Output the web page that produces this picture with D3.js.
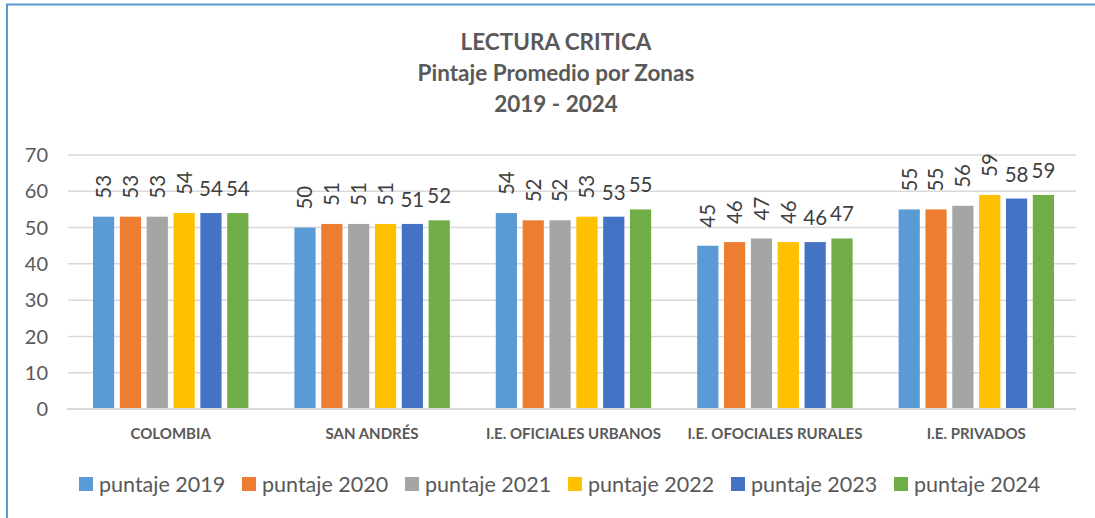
<!DOCTYPE html>
<html>
<head>
<meta charset="utf-8">
<script src="https://cdn.jsdelivr.net/npm/d3@7"></script>
<style>
  body { margin: 0; background: #fff; }
  svg { display: block; font-family: Lato, "Open Sans", sans-serif; }
</style>
</head>
<body>
<div id="root"></div>
<script>
const width = 1095;
const height = 518;

// Data

const zonas = ['COLOMBIA', 'SAN ANDRÉS', 'I.E. OFICIALES URBANOS', 'I.E. OFOCIALES RURALES', 'I.E. PRIVADOS'];
const series = ['puntaje 2019', 'puntaje 2020', 'puntaje 2021', 'puntaje 2022', 'puntaje 2023', 'puntaje 2024'];

const puntaje2019 = [53, 50, 54, 45, 55];
const puntaje2020 = [53, 51, 52, 46, 55];
const puntaje2021 = [53, 51, 52, 47, 56];
const puntaje2022 = [54, 51, 53, 46, 59];
const puntaje2023 = [54, 51, 53, 46, 58];
const puntaje2024 = [54, 52, 55, 47, 59];

const values = [puntaje2019, puntaje2020, puntaje2021, puntaje2022, puntaje2023, puntaje2024];
const yTicks = [0, 10, 20, 30, 40, 50, 60, 70];
const titleLines = ['LECTURA CRITICA', 'Pintaje Promedio por Zonas', '2019 - 2024'];

// Colors

const colors = ['#5B9BD5', '#ED7D31', '#A5A5A5', '#FFC000', '#4472C4', '#70AD47'];
const colorScale = d3.scaleOrdinal(series, colors);

// Main canvas

const svg = d3
  .select('#root')
  .append('svg')
  .attr('width', width)
  .attr('height', height);

// Frame

svg.append('line')
  .attr('x1', 6).attr('x2', width).attr('y1', 4.5).attr('y2', 4.5)
  .attr('stroke', '#5B9BD5').attr('stroke-width', 2);
svg.append('line')
  .attr('x1', 7).attr('x2', 7).attr('y1', 4).attr('y2', height)
  .attr('stroke', '#5B9BD5').attr('stroke-width', 2);

// Title

svg.append('text')
  .attr('x', 556)
  .attr('y', 50)
  .attr('text-anchor', 'middle')
  .attr('font-weight', 'bold')
  .attr('font-size', 22.5)
  .attr('fill', '#595959')
  .selectAll('tspan')
  .data(titleLines)
  .join('tspan')
  .attr('x', 556)
  .attr('dy', (d, i) => (i === 0 ? 0 : 31))
  .text((d) => d);

// Scales

const x0 = d3.scaleBand().domain(zonas).range([70, 1077]);
const x1 = d3.scaleBand().domain(series).range([23, x0.bandwidth() - 23]).paddingInner(0.21);
const y = d3.scaleLinear().domain([0, 70]).range([409, 155]);

// Grid

svg.append('g')
  .selectAll('line')
  .data(yTicks.slice(1))
  .join('line')
  .attr('x1', 68)
  .attr('x2', 1076)
  .attr('y1', (d) => y(d))
  .attr('y2', (d) => y(d))
  .attr('stroke', '#d9d9d9')
  .attr('stroke-width', 1.5);

// Y axis labels

svg.append('g')
  .selectAll('text')
  .data(yTicks)
  .join('text')
  .attr('x', 48)
  .attr('y', (d) => y(d))
  .attr('dy', '0.36em')
  .attr('text-anchor', 'end')
  .attr('font-size', 20)
  .attr('fill', '#595959')
  .text((d) => d);

// Bars

const group = svg
  .append('g')
  .selectAll('g')
  .data(zonas)
  .join('g')
  .attr('transform', (d) => `translate(${x0(d)},0)`);

const cells = group
  .selectAll('g')
  .data((z, zi) => series.map((s, si) => ({ s, si, v: values[si][zi] })))
  .join('g');

cells
  .append('rect')
  .attr('x', (d) => x1(d.s))
  .attr('y', (d) => y(d.v))
  .attr('width', x1.bandwidth())
  .attr('height', (d) => y(0) - y(d.v))
  .attr('fill', (d) => colorScale(d.s));

// Data labels: Excel turned the first four upright where they did not fit

cells
  .append('text')
  .attr('font-size', 20.5)
  .attr('fill', '#404040')
  .attr('text-anchor', (d) => (d.si < 4 ? 'start' : 'middle'))
  .attr('dy', (d) => (d.si < 4 ? '0.36em' : 0))
  .attr('transform', (d) => {
    const cx = x1(d.s) + x1.bandwidth() / 2;
    return d.si < 4
      ? `translate(${cx},${y(d.v) - 18}) rotate(-90)`
      : `translate(${cx},${y(d.v) - 17})`;
  })
  .text((d) => d.v);

// Axis line

svg.append('line')
  .attr('x1', 67)
  .attr('x2', 1076)
  .attr('y1', y(0))
  .attr('y2', y(0))
  .attr('stroke', '#d9d9d9')
  .attr('stroke-width', 2);

// Category labels

svg.append('g')
  .selectAll('text')
  .data(zonas)
  .join('text')
  .attr('x', (d) => x0(d) + x0.bandwidth() / 2)
  .attr('y', 439)
  .attr('text-anchor', 'middle')
  .attr('font-size', 15)
  .attr('font-weight', 'bold')
  .attr('fill', '#595959')
  .text((d) => d);

// Legend

const legend = svg
  .append('g')
  .selectAll('g')
  .data(series)
  .join('g')
  .attr('transform', (d, i) => `translate(${79 + 163 * i},477)`);

legend
  .append('rect')
  .attr('width', 14)
  .attr('height', 14)
  .attr('fill', (d) => colorScale(d));

legend
  .append('text')
  .attr('x', 20)
  .attr('y', 7)
  .attr('dy', '0.36em')
  .attr('font-size', 21.5)
  .attr('fill', '#595959')
  .text((d) => d);
</script>
</body>
</html>
